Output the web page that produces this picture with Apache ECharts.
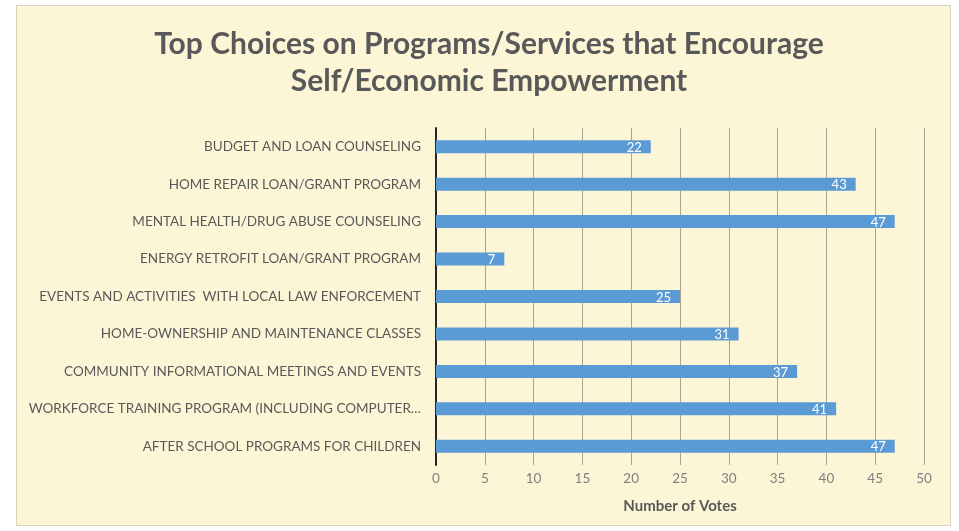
<!DOCTYPE html>
<html>
<head>
<meta charset="utf-8">
<script src="https://cdn.jsdelivr.net/npm/echarts@6/dist/echarts.min.js"></script>
<style>
html,body{margin:0;padding:0;background:#ffffff;}
#frame{position:absolute;left:16px;top:5px;width:935px;height:521px;background:#fcf6d6;border:1px solid #d8d4c0;box-sizing:border-box;}
#chart{position:absolute;left:0;top:0;width:959px;height:531px;}
</style>
</head>
<body>
<div id="frame"></div>
<div id="chart"></div>
<script>
const categories = [
  "AFTER SCHOOL PROGRAMS FOR CHILDREN",
  "WORKFORCE TRAINING PROGRAM (INCLUDING COMPUTER…",
  "COMMUNITY INFORMATIONAL MEETINGS AND EVENTS",
  "HOME-OWNERSHIP AND MAINTENANCE CLASSES",
  "EVENTS AND ACTIVITIES  WITH LOCAL LAW ENFORCEMENT",
  "ENERGY RETROFIT LOAN/GRANT PROGRAM",
  "MENTAL HEALTH/DRUG ABUSE COUNSELING",
  "HOME REPAIR LOAN/GRANT PROGRAM",
  "BUDGET AND LOAN COUNSELING"
];
const votes = [47, 41, 37, 31, 25, 7, 47, 43, 22];
const titleText = "Top Choices on Programs/Services that Encourage\nSelf/Economic Empowerment";
const axisName = "Number of Votes";

const chart = echarts.init(document.getElementById('chart'), null, {renderer: 'canvas'});
chart.setOption({
  backgroundColor: 'transparent',
  animation: false,
  title: {
    text: titleText,
    left: 484,
    textAlign: 'center',
    top: 21,
    textStyle: {
      fontFamily: 'Lato',
      fontWeight: 'bold',
      fontSize: 30,
      color: '#595959',
      lineHeight: 37
    }
  },
  grid: {left: 436, right: 35, top: 128, height: 337, containLabel: false},
  xAxis: {
    type: 'value',
    min: 0, max: 50, interval: 5,
    name: axisName,
    nameLocation: 'middle',
    nameGap: 34,
    nameTextStyle: {fontFamily: 'Lato', fontWeight: 'bold', fontSize: 15, color: '#595959'},
    axisLine: {show: false},
    axisTick: {show: false},
    axisLabel: {fontFamily: 'Lato', fontSize: 13.5, color: '#7f7f7f', margin: 7},
    splitLine: {show: true, lineStyle: {color: '#a9a592', width: 1}}
  },
  yAxis: {
    type: 'category',
    data: categories,
    axisLine: {show: true, lineStyle: {color: '#262626', width: 2}},
    axisTick: {show: false},
    axisLabel: {fontFamily: 'Lato', fontSize: 13.5, color: '#595959', margin: 15}
  },
  series: [{
    type: 'bar',
    data: votes,
    barWidth: 13,
    itemStyle: {color: '#5b9bd5'},
    label: {
      show: true,
      position: 'insideRight',
      color: '#ffffff',
      fontFamily: 'Lato',
      fontSize: 13,
      offset: [-4, 1]
    }
  }]
});
</script>
</body>
</html>
